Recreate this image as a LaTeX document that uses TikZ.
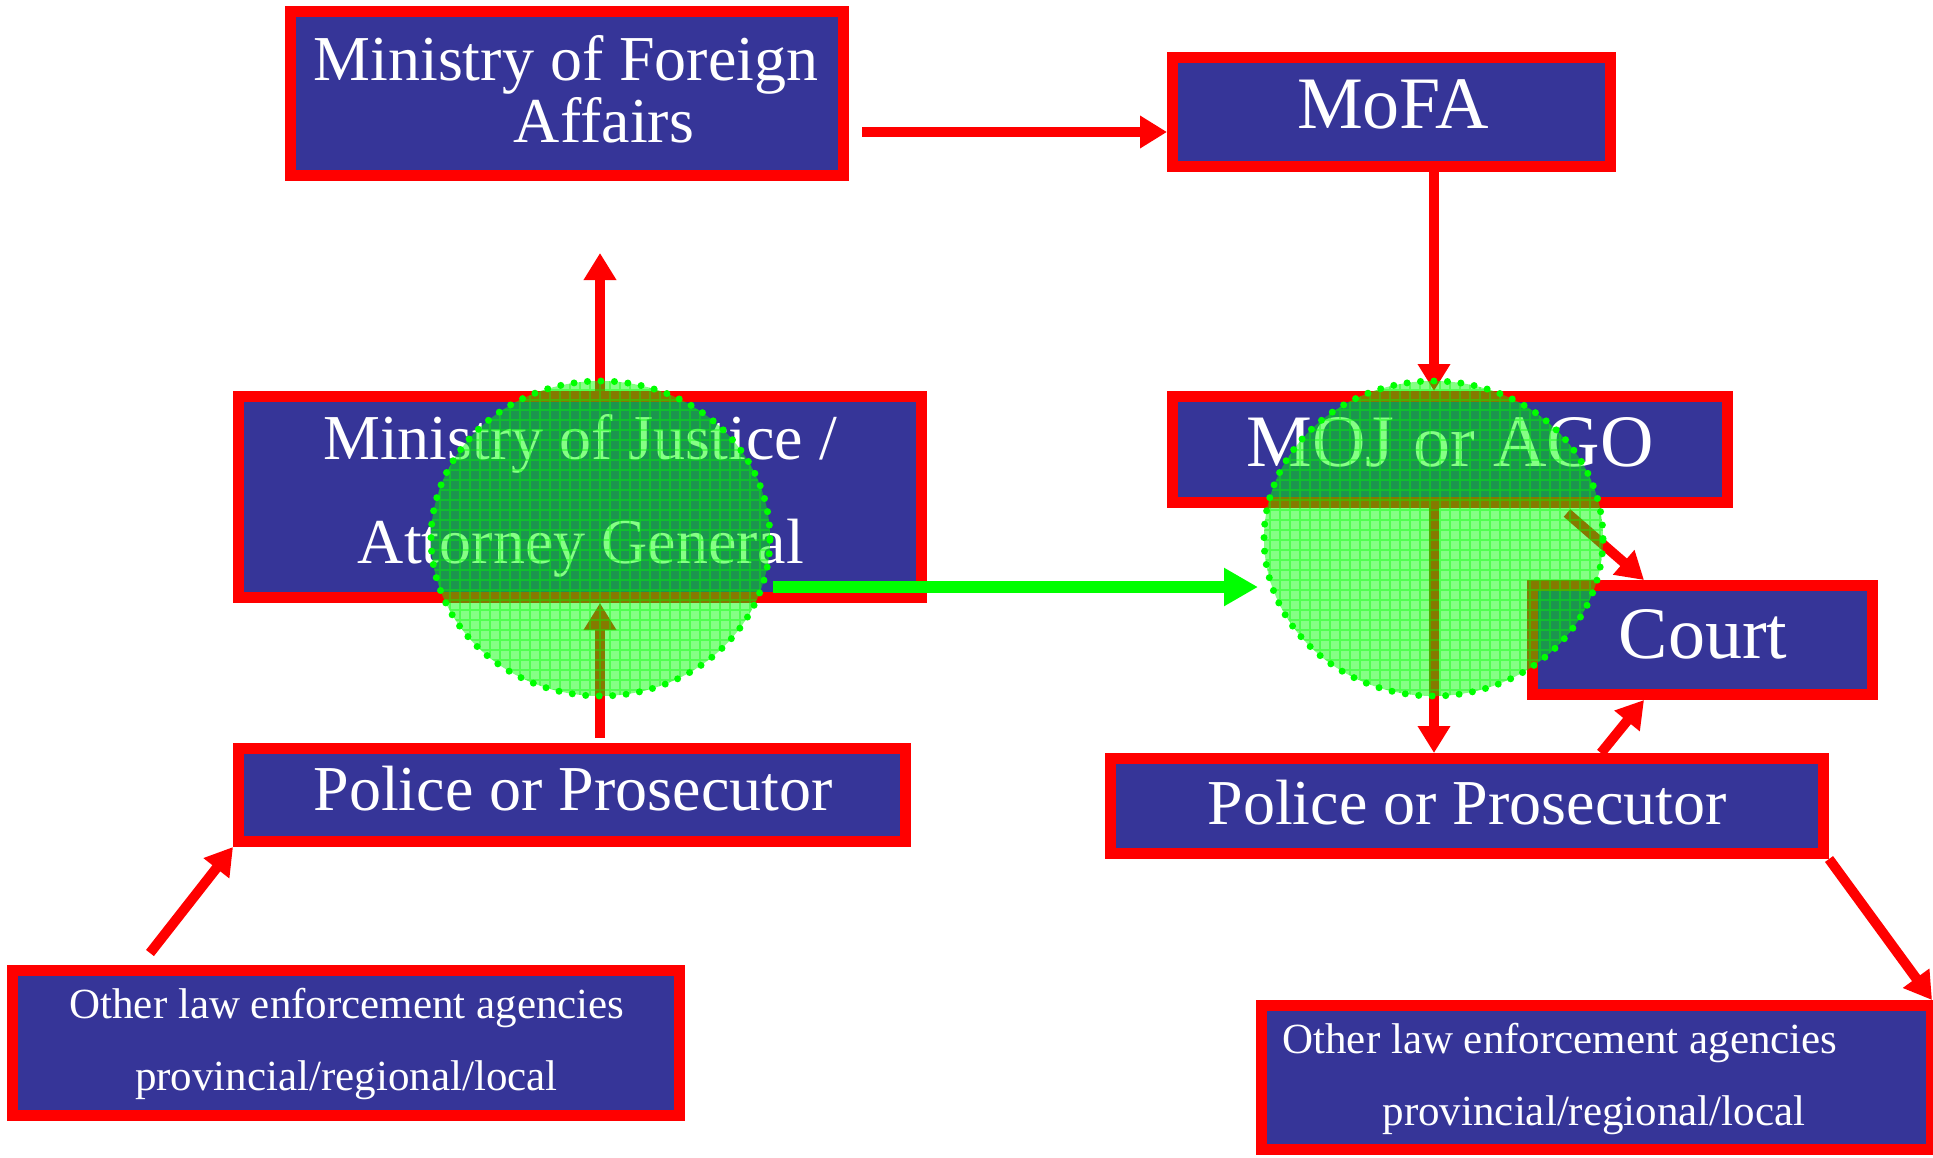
\documentclass[tikz,border=0pt]{standalone}
\usepackage{fontspec}
\setmainfont{Liberation Serif}
\usetikzlibrary{arrows.meta,calc,shapes.geometric}
\definecolor{boxblue}{RGB}{54,53,152}
\definecolor{mygreen}{RGB}{0,255,0}
\begin{document}
\begin{tikzpicture}[x=1pt,y=-1pt,
  box/.style={rectangle, draw=red, fill=boxblue, line width=11pt, inner sep=0pt},
  lbl/.style={text=white, inner sep=0pt, anchor=base},
  fbig/.style={font=\fontsize{64}{70}\selectfont},
  fhuge/.style={font=\fontsize{74}{80}\selectfont},
  fsmall/.style={font=\fontsize{43}{48}\selectfont},
  arr/.style={draw=red, line width=10pt, -{Triangle[length=27pt,width=31pt]}},
  garr/.style={draw=mygreen, line width=12pt, -{Triangle[length=34pt,width=36pt]}},
  halo/.style={ellipse, line width=6pt, fill=mygreen, fill opacity=0.48, inner sep=0pt, minimum width=339pt, minimum height=315pt},
  halodots/.style={draw=mygreen, line width=7pt, dash pattern=on 0pt off 13.5pt, line cap=round},
  gridline/.style={draw=mygreen, line width=1.2pt, opacity=0.4}
]
\useasboundingbox (0,0) rectangle (1933,1157);

% boxes
\node[box, minimum width=553pt, minimum height=164pt] (mfa) at (567,93.5) {};
\node[box, minimum width=438pt, minimum height=109pt] (mofa) at (1391.5,112) {};
\node[box, minimum width=683pt, minimum height=201pt] (moj) at (580,497) {};
\node[box, minimum width=555pt, minimum height=106pt] (mojago) at (1450,449.5) {};
\node[box, minimum width=340pt, minimum height=109pt] (court) at (1702.5,640) {};
\node[box, minimum width=667pt, minimum height=93pt] (polL) at (572,795) {};
\node[box, minimum width=713pt, minimum height=95pt] (polR) at (1467,806) {};
\node[box, minimum width=667pt, minimum height=145pt] (othL) at (346,1043) {};
\node[box, minimum width=670pt, minimum height=144pt] (othR) at (1596.5,1077.5) {};

% texts
\node[lbl, fbig] (mfaT1) at (566,80) {Ministry of Foreign};
\node[lbl, fbig] (mfaT2) at (604,142) {Affairs};
\node[lbl, fhuge] (mofaT) at (1393,128) {MoFA};
\node[lbl, fbig] (mojT1) at (580,459) {Ministry of Justice /};
\node[lbl, fbig] (mojT2) at (581,563) {Attorney General};
\node[lbl, fhuge] (mojagoT) at (1450,466) {MOJ or AGO};
\node[lbl, fhuge] (courtT) at (1703,658) {Court};
\node[lbl, fbig] (polLT) at (573,810) {Police or Prosecutor};
\node[lbl, fbig] (polRT) at (1467,824) {Police or Prosecutor};
\node[lbl, fsmall] (othLT1) at (347,1018) {Other law enforcement agencies};
\node[lbl, fsmall] (othLT2) at (346.5,1090) {provincial/regional/local};
\node[lbl, fsmall] (othRT1) at (1560,1053) {Other law enforcement agencies};
\node[lbl, fsmall] (othRT2) at (1594,1125) {provincial/regional/local};

% red connectors
\draw[arr] ($(mfa.north east)+(13,126)$) -- ($(mofa.north west)+(0,80)$);
\draw[arr] ($(moj.north)+(20,0)$) -- ($(mfa.south)+(33,72)$);
\draw[arr] ($(polL.north)+(28,-5)$) -- ($(moj.south)+(20,0)$);
\draw[arr] ($(othL.north west)+(143,-12)$) -- (polL.south west);
\draw[arr] ($(mofa.south)+(42.5,0)$) -- ($(mojago.north)+(-16,0)$);
\draw[arr] ($(mojago.south)+(-16,0)$) -- ($(polR.north)+(-33,0)$);
\draw[arr] ($(mojago.south east)+(-166,5)$) -- ($(court.north west)+(117,0)$);
\draw[arr] ($(polR.north)+(134,0)$) -- ($(court.south west)+(117,0)$);
\draw[arr] (polR.south east) -- ($(othR.north east)+(-5,0)$);

% green halos
\node[halo] (cL) at (600.5,538.5) {};
\node[halo] (cR) at (1433.5,538.5) {};
\begin{scope}
  \clip (cL.center) ellipse [x radius=169.5pt, y radius=157.5pt];
  \draw[gridline] (420,370) grid[step=10pt] (790,710);
\end{scope}
\begin{scope}
  \clip (cR.center) ellipse [x radius=169.5pt, y radius=157.5pt];
  \draw[gridline] (1250,370) grid[step=10pt] (1620,710);
\end{scope}
\draw[halodots] (cL.center) ellipse [x radius=169.5pt, y radius=157.5pt];
\draw[halodots] (cR.center) ellipse [x radius=169.5pt, y radius=157.5pt];

% green connector
\draw[garr] ($(cL.east)+(0,48.5)$) -- ($(cR.west)+(-3,48.5)$);
\end{tikzpicture}
\end{document}
